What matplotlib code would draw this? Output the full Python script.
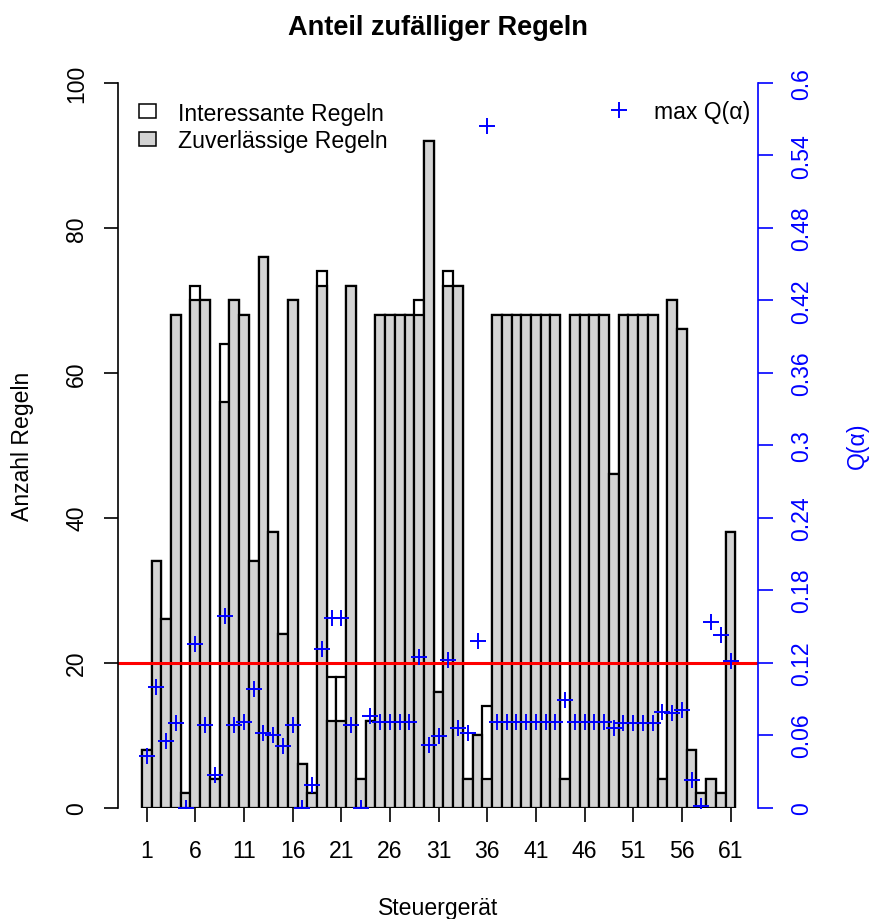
import numpy as np
import matplotlib
matplotlib.use("Agg")
import matplotlib.pyplot as plt
from matplotlib.patches import Patch
from matplotlib.lines import Line2D

plt.rcParams["font.family"] = ["Liberation Sans", "DejaVu Sans"]

# ── Daten ───────────────────────────────────────────────────────────────────
steuergeraet = np.arange(1, 62)

interessante = [8, 34, 26, 68, 2, 72, 70, 4, 64, 70,
                68, 34, 76, 38, 24, 70, 6, 2, 74, 18,
                18, 72, 4, 12, 68, 68, 68, 68, 70, 92,
                16, 74, 72, 4, 10, 14, 68, 68, 68, 68,
                68, 68, 68, 4, 68, 68, 68, 68, 46, 68,
                68, 68, 68, 4, 70, 66, 8, 2, 4, 2,
                38]

zuverlaessige = [8, 34, 26, 68, 2, 70, 70, 4, 56, 70,
                 68, 34, 76, 38, 24, 70, 6, 2, 72, 12,
                 12, 72, 4, 12, 68, 68, 68, 68, 68, 92,
                 16, 72, 72, 4, 10, 4, 68, 68, 68, 68,
                 68, 68, 68, 4, 68, 68, 68, 68, 46, 68,
                 68, 68, 68, 4, 70, 66, 8, 2, 4, 2,
                 38]

max_q = [0.043, 0.100, 0.055, 0.070, 0.0, 0.135, 0.068, 0.027, 0.159, 0.068,
         0.071, 0.098, 0.062, 0.060, 0.051, 0.068, 0.0, 0.019, 0.131, 0.157,
         0.157, 0.068, 0.0, 0.076, 0.071, 0.071, 0.071, 0.071, 0.125, 0.052,
         0.059, 0.122, 0.066, 0.062, 0.138, 0.564, 0.071, 0.071, 0.071, 0.071,
         0.071, 0.071, 0.071, 0.089, 0.071, 0.071, 0.071, 0.071, 0.066, 0.070,
         0.070, 0.070, 0.070, 0.079, 0.078, 0.081, 0.023, 0.001, 0.154, 0.143,
         0.121]

SCHWELLE = 20
x_ticks = np.arange(1, 62, 5)
y_ticks = np.arange(0, 101, 20)
q_ticks = [0, 0.06, 0.12, 0.18, 0.24, 0.3, 0.36, 0.42, 0.48, 0.54, 0.6]
q_labels = ["0", "0.06", "0.12", "0.18", "0.24", "0.3", "0.36",
            "0.42", "0.48", "0.54", "0.6"]

FS = 16.6
W, H = 871, 920

# ── Figure ──────────────────────────────────────────────────────────────────
fig = plt.figure(figsize=(W / 100, H / 100), dpi=100)
ax = fig.add_axes([118.3 / W, 1 - 808.5 / H, 640 / W, 724.5 / H])

ax.bar(steuergeraet, interessante, width=1.0, color="white",
       edgecolor="black", linewidth=1.6)
ax.bar(steuergeraet, zuverlaessige, width=1.0, color="lightgray",
       edgecolor="black", linewidth=1.6)
ax.axhline(SCHWELLE, color="red", lw=2.2)

ax.set_xlim(-1.919, 63.857)
ax.set_ylim(0, 100)
for side in ("top", "right", "bottom"):
    ax.spines[side].set_visible(False)
ax.spines["left"].set_linewidth(1.2)

ax.set_xticks(x_ticks, [str(t) for t in x_ticks])
ax.set_yticks(y_ticks, [str(t) for t in y_ticks], rotation=90,
              va="center", ha="center")
ax.tick_params(axis="x", length=10, width=1.2, pad=13, labelsize=FS)
ax.tick_params(axis="y", length=10, width=1.2, pad=20, labelsize=FS)

# ── Zweite Achse für Q(α) ───────────────────────────────────────────────────
ax2 = ax.twinx()
ax2.plot(steuergeraet, max_q, ls="none", marker="+", ms=12, mew=1.4,
         color="blue", clip_on=True)
ax2.set_ylim(0, 0.6)
ax2.set_xlim(ax.get_xlim())
for side in ("top", "left", "bottom"):
    ax2.spines[side].set_visible(False)
ax2.spines["right"].set_color("blue")
ax2.spines["right"].set_linewidth(1.2)
ax2.set_yticks(q_ticks, q_labels, rotation=90, va="center", ha="center",
               color="blue")
ax2.tick_params(axis="y", length=10.5, width=1.2, pad=20.5, labelsize=FS,
                color="blue")

# ── Legenden ────────────────────────────────────────────────────────────────
handles = [Patch(facecolor="white", edgecolor="black", lw=1.1),
           Patch(facecolor="lightgray", edgecolor="black", lw=1.1)]
leg1 = ax2.legend(handles, ["Interessante Regeln", "Zuverlässige Regeln"],
                  loc="upper left", bbox_to_anchor=(139.3 / W, 1 - 102.5 / H),
                  bbox_transform=fig.transFigure, frameon=False,
                  fontsize=FS, handlelength=0.73, handleheight=0.57,
                  handletextpad=0.93, labelspacing=0.2,
                  borderpad=0, borderaxespad=0)
ax2.add_artist(leg1)
ax2.legend([Line2D([], [], ls="none", marker="+", ms=12, mew=1.4,
                   color="blue")],
           ["max Q(α)"], loc="upper right",
           bbox_to_anchor=(750 / W, 1 - 101 / H),
           bbox_transform=fig.transFigure, frameon=False, fontsize=FS,
           handlelength=1.2, handletextpad=0.9, borderpad=0, borderaxespad=0)

# ── Beschriftungen ──────────────────────────────────────────────────────────
fig.text(438.3 / W, 1 - 35 / H, "Anteil zufälliger Regeln", ha="center",
         va="baseline", fontsize=19.5, fontweight="bold")
fig.text(438.3 / W, 1 - 915 / H, "Steuergerät", ha="center",
         va="baseline", fontsize=FS)
fig.text(22.5 / W, 1 - 446 / H, "Anzahl Regeln", ha="center", va="center",
         rotation=90, fontsize=FS)
fig.text(857 / W, 1 - 446 / H, "Q(α)", ha="center", va="center",
         rotation=90, fontsize=FS, color="blue")

fig.savefig("out.png", dpi=100)
